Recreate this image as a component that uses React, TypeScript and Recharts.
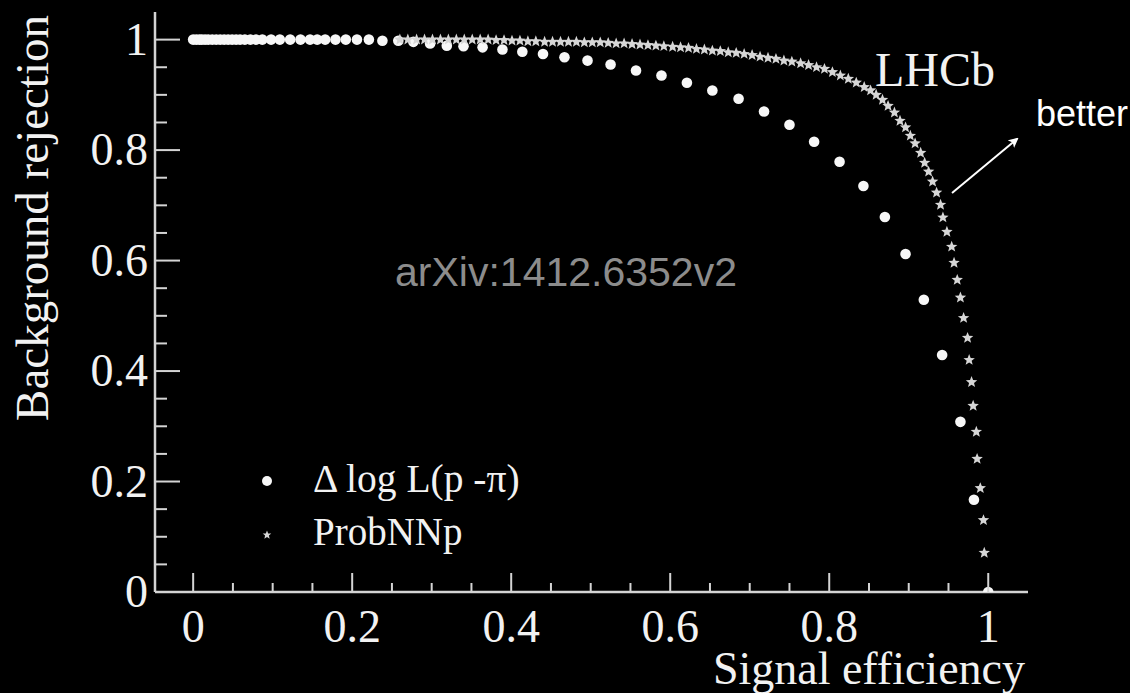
import React from "react";
import { ScatterChart, Scatter, XAxis, YAxis, Legend } from "recharts";

// Delta log L(p - pi): signal efficiency vs background rejection
const dllEff = [
  0.0, 0.004, 0.008, 0.011, 0.015, 0.019, 0.024, 0.029, 0.034, 0.039, 0.044, 0.049, 0.054, 0.059,
  0.065, 0.072, 0.079, 0.087, 0.098, 0.109, 0.122, 0.135, 0.147, 0.156, 0.166, 0.179, 0.192, 0.206,
  0.221, 0.238, 0.258, 0.277, 0.298, 0.319, 0.34, 0.364, 0.389, 0.414, 0.44, 0.467, 0.496, 0.525,
  0.557, 0.589, 0.621, 0.653, 0.686, 0.718, 0.75, 0.781, 0.813, 0.843, 0.87, 0.896, 0.919, 0.942,
  0.965, 0.982, 1.0,
];
const dllRej = [
  1.0, 1.0, 1.0, 1.0, 1.0, 1.0, 1.0, 1.0, 1.0, 1.0, 1.0, 1.0, 1.0, 1.0,
  1.0, 1.0, 1.0, 1.0, 1.0, 1.0, 1.0, 1.0, 1.0, 1.0, 1.0, 1.0, 1.0, 1.0,
  1.0, 0.998, 0.998, 0.996, 0.993, 0.989, 0.988, 0.986, 0.982, 0.978, 0.974, 0.968, 0.962, 0.955,
  0.944, 0.935, 0.922, 0.908, 0.893, 0.87, 0.846, 0.815, 0.779, 0.735, 0.679, 0.612, 0.529, 0.429,
  0.308, 0.167, 0.0,
];

// ProbNNp
const nnEff = [
  0.26, 0.27, 0.281, 0.291, 0.301, 0.311, 0.321, 0.331, 0.341, 0.351, 0.361, 0.371, 0.381, 0.391,
  0.401, 0.411, 0.421, 0.431, 0.442, 0.452, 0.462, 0.472, 0.482, 0.492, 0.502, 0.512, 0.522, 0.532,
  0.542, 0.552, 0.562, 0.572, 0.582, 0.592, 0.603, 0.613, 0.623, 0.633, 0.643, 0.653, 0.663, 0.673,
  0.683, 0.693, 0.703, 0.713, 0.723, 0.733, 0.743, 0.753, 0.764, 0.774, 0.784, 0.794, 0.804, 0.814,
  0.824, 0.834, 0.844, 0.852, 0.859, 0.867, 0.874, 0.882, 0.889, 0.896, 0.902, 0.908, 0.915, 0.92,
  0.925, 0.93, 0.935, 0.94, 0.943, 0.948, 0.954, 0.957, 0.961, 0.965, 0.969, 0.974, 0.976, 0.979,
  0.981, 0.985, 0.986, 0.99, 0.994, 0.995,
];
const nnRej = [
  1.0, 1.0, 1.0, 1.0, 1.0, 1.0, 1.0, 1.0, 1.0, 1.0, 1.0, 1.0, 0.999, 0.999,
  0.998, 0.998, 0.997, 0.997, 0.996, 0.996, 0.996, 0.996, 0.996, 0.995, 0.995, 0.995, 0.994, 0.993,
  0.993, 0.992, 0.991, 0.99, 0.989, 0.988, 0.987, 0.986, 0.985, 0.983, 0.982, 0.98, 0.979, 0.977,
  0.976, 0.974, 0.972, 0.969, 0.967, 0.965, 0.962, 0.96, 0.957, 0.954, 0.95, 0.947, 0.941, 0.935,
  0.929, 0.922, 0.914, 0.908, 0.9, 0.891, 0.88, 0.868, 0.853, 0.841, 0.826, 0.812, 0.795, 0.777,
  0.761, 0.743, 0.723, 0.701, 0.678, 0.652, 0.625, 0.596, 0.565, 0.533, 0.496, 0.46, 0.42, 0.38,
  0.337, 0.29, 0.241, 0.188, 0.13, 0.071,
];

const xTicks = [0, 0.05, 0.1, 0.15, 0.2, 0.25, 0.3, 0.35, 0.4, 0.45, 0.5, 0.55, 0.6, 0.65, 0.7, 0.75, 0.8, 0.85, 0.9, 0.95, 1];
const yTicks = [0, 0.05, 0.1, 0.15, 0.2, 0.25, 0.3, 0.35, 0.4, 0.45, 0.5, 0.55, 0.6, 0.65, 0.7, 0.75, 0.8, 0.85, 0.9, 0.95, 1];

const dllData = dllEff.map((x, i) => ({ x, y: dllRej[i] }));
const nnData = nnEff.map((x, i) => ({ x, y: nnRej[i] }));

const FRAME = "#d4d4d4";
const TEXT = "#f2f2f2";
const SERIF = "'Liberation Serif', 'Times New Roman', serif";
const SANS = "'Liberation Sans', Arial, sans-serif";
const X_DOMAIN = [-0.048, 1.05];
const Y_DOMAIN = [0, 1.05];

const isMajor = (v: number) => Math.abs(v * 5 - Math.round(v * 5)) < 1e-6;
const fmt = (v: number) => String(Math.round(v * 10) / 10);

const starPath = (cx: number, cy: number, R: number, r: number) => {
  let d = "";
  for (let k = 0; k < 10; k++) {
    const rad = k % 2 === 0 ? R : r;
    const a = -Math.PI / 2 + (k * Math.PI) / 5;
    d += (k === 0 ? "M" : "L") + (cx + rad * Math.cos(a)).toFixed(2) + "," + (cy + rad * Math.sin(a)).toFixed(2);
  }
  return d + "Z";
};

const Dot = (p: any) => <circle cx={p.cx} cy={p.cy} r={5.3} fill="#f7f7f7" />;
const Star = (p: any) => <path d={starPath(p.cx, p.cy, 6, 2.6)} fill="#d6d6d6" />;

const BottomTick = ({ x, y, payload }: any) => {
  const major = isMajor(payload.value);
  return (
    <g>
      <line x1={x} x2={x} y1={y} y2={y - (major ? 19 : 9)} stroke={FRAME} strokeWidth={2} />
      {major && (
        <text x={x} y={y + 50} textAnchor="middle" fill={TEXT} fontSize={46} fontFamily={SERIF}>
          {fmt(payload.value)}
        </text>
      )}
    </g>
  );
};

const TopTick = ({ x, y, payload }: any) => {
  const major = isMajor(payload.value);
  return <line x1={x} x2={x} y1={y} y2={y + (major ? 18 : 9)} stroke={FRAME} strokeWidth={2} />;
};

const LeftTick = ({ x, y, payload }: any) => {
  const major = isMajor(payload.value);
  return (
    <g>
      <line x1={x} x2={x + (major ? 25 : 12)} y1={y} y2={y} stroke={FRAME} strokeWidth={2} />
      {major && (
        <text x={x - 7} y={y + 15} textAnchor="end" fill={TEXT} fontSize={46} fontFamily={SERIF}>
          {fmt(payload.value)}
        </text>
      )}
    </g>
  );
};

const RightTick = ({ x, y, payload }: any) => {
  const major = isMajor(payload.value);
  return <line x1={x} x2={x - (major ? 25 : 13)} y1={y} y2={y} stroke={FRAME} strokeWidth={2} />;
};

const LegendBox = () => (
  <svg width={320} height={110}>
    <circle cx={22} cy={26} r={5} fill="#f7f7f7" />
    <text x={68} y={37} fill={TEXT} fontSize={39.5} fontFamily={SERIF}>
      Δ log L(p -π)
    </text>
    <path d={starPath(22, 80, 4.5, 2)} fill="#d6d6d6" />
    <text x={68} y={90} fill={TEXT} fontSize={39} fontFamily={SERIF}>
      ProbNNp
    </text>
  </svg>
);

export default function App() {
  const axisLine = { stroke: FRAME, strokeWidth: 2.5 };
  return (
    <div style={{ position: "absolute", left: 0, top: 0, width: 1130, height: 693, background: "#000" }}>
      <ScatterChart width={1130} height={693} margin={{ top: 12, right: 102, bottom: 0, left: 0 }}>
        <defs>
          <marker id="arrowHead" markerWidth="10" markerHeight="10" refX="8" refY="5" orient="auto" markerUnits="userSpaceOnUse">
            <path d="M0,0 L10,5 L0,10 L2.5,5 Z" fill="#fff" />
          </marker>
        </defs>
        <XAxis
          xAxisId="bottom"
          dataKey="x"
          type="number"
          domain={X_DOMAIN}
          allowDataOverflow
          ticks={xTicks}
          interval={0}
          height={101}
          tickSize={0}
          tickMargin={0}
          tickLine={false}
          axisLine={axisLine}
          tick={<BottomTick />}
        />
        <XAxis
          xAxisId="top"
          orientation="top"
          dataKey="x"
          type="number"
          domain={X_DOMAIN}
          allowDataOverflow
          ticks={xTicks}
          interval={0}
          height={0}
          tickSize={0}
          tickMargin={0}
          tickLine={false}
          axisLine={axisLine}
          tick={<TopTick />}
        />
        <YAxis
          yAxisId="left"
          dataKey="y"
          type="number"
          domain={Y_DOMAIN}
          allowDataOverflow
          ticks={yTicks}
          interval={0}
          width={155}
          tickSize={0}
          tickMargin={0}
          tickLine={false}
          axisLine={axisLine}
          tick={<LeftTick />}
        />
        <YAxis
          yAxisId="right"
          orientation="right"
          dataKey="y"
          type="number"
          domain={Y_DOMAIN}
          allowDataOverflow
          ticks={yTicks}
          interval={0}
          width={0}
          tickSize={0}
          tickMargin={0}
          tickLine={false}
          axisLine={axisLine}
          tick={<RightTick />}
        />
        <Scatter
          name="Δ log L(p -π)"
          data={dllData}
          xAxisId="bottom"
          yAxisId="left"
          shape={<Dot />}
          isAnimationActive={false}
        />
        <Scatter
          name="ProbNNp"
          data={nnData}
          xAxisId="top"
          yAxisId="right"
          shape={<Star />}
          isAnimationActive={false}
        />
        <Legend
          layout="vertical"
          align="center"
          verticalAlign="middle"
          wrapperStyle={{ left: 245, top: 455, width: 320, height: 110 }}
          content={() => <LegendBox />}
        />
        <text x={1025} y={684} textAnchor="end" fill={TEXT} fontSize={46} fontFamily={SERIF}>
          Signal efficiency
        </text>
        <text x={48} y={15} textAnchor="end" fill={TEXT} fontSize={47} fontFamily={SERIF} transform="rotate(-90 48 15)">
          Background rejection
        </text>
        <text x={995} y={86} textAnchor="end" fill={TEXT} fontSize={48} fontFamily={SERIF}>
          LHCb
        </text>
        <text x={566} y={286} textAnchor="middle" fill="#8c8c8c" fontSize={41} fontFamily={SANS}>
          arXiv:1412.6352v2
        </text>
        <text x={1036} y={126} fill="#fff" fontSize={36} fontFamily={SANS}>
          better
        </text>
        <line x1={952} y1={193} x2={1017} y2={139} stroke="#fff" strokeWidth={2} markerEnd="url(#arrowHead)" />
      </ScatterChart>
    </div>
  );
}
